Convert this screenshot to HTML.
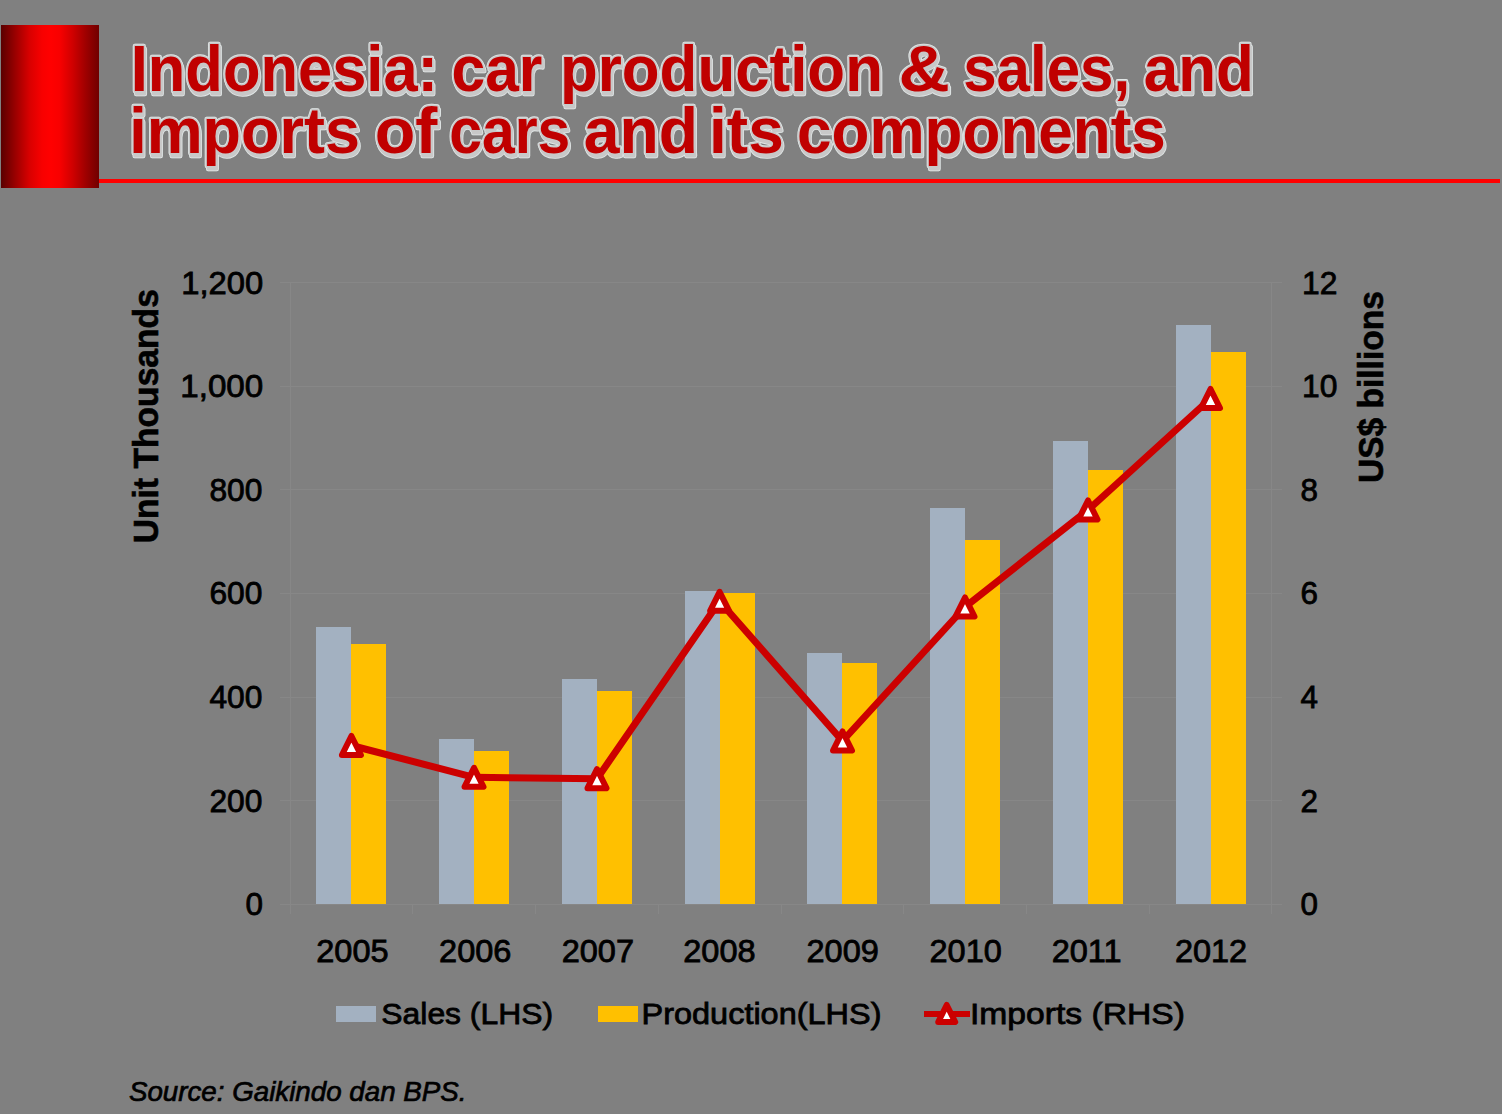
<!DOCTYPE html>
<html><head><meta charset="utf-8"><style>
html,body{margin:0;padding:0;background:#808080;width:1502px;height:1114px;overflow:hidden}
svg{display:block}
text{font-family:"Liberation Sans",sans-serif}
</style></head><body>
<svg width="1502" height="1114" viewBox="0 0 1502 1114">
<defs>
<linearGradient id="rg" x1="0" x2="1" y1="0" y2="0">
<stop offset="0" stop-color="#5a0000"/>
<stop offset="0.16" stop-color="#a00000"/>
<stop offset="0.29" stop-color="#d80000"/>
<stop offset="0.42" stop-color="#f80000"/>
<stop offset="0.51" stop-color="#ff0000"/>
<stop offset="0.6" stop-color="#f80000"/>
<stop offset="0.73" stop-color="#d00000"/>
<stop offset="0.86" stop-color="#a00000"/>
<stop offset="1" stop-color="#700000"/>
</linearGradient>
</defs>
<rect x="0" y="0" width="1502" height="1114" fill="#808080"/>
<rect x="1" y="25" width="98" height="163" fill="url(#rg)"/>
<rect x="99" y="179" width="1401" height="4" fill="#ff0000"/>

<g id="title" stroke-linejoin="round">
<g transform="translate(1.2,2.6)" fill="#e2e8e8" stroke="#e2e8e8" stroke-width="4.4"><text transform="translate(130.72,91.40) scale(0.9457,1)" font-size="65" font-weight="bold" font-style="normal" >Indonesia:</text>
<text transform="translate(451.51,91.40) scale(0.9309,1)" font-size="65" font-weight="bold" font-style="normal" >car</text>
<text transform="translate(559.99,91.40) scale(0.9517,1)" font-size="65" font-weight="bold" font-style="normal" >production</text>
<text transform="translate(898.41,91.40) scale(1.0952,1)" font-size="65" font-weight="bold" font-style="normal" >&amp;</text>
<text transform="translate(963.23,91.40) scale(0.9237,1)" font-size="65" font-weight="bold" font-style="normal" >sales,</text>
<text transform="translate(1143.79,91.40) scale(0.9532,1)" font-size="65" font-weight="bold" font-style="normal" >and</text>
<text transform="translate(129.16,153.20) scale(0.9684,1)" font-size="65" font-weight="bold" font-style="normal" >imports</text>
<text transform="translate(374.63,153.20) scale(1.0220,1)" font-size="65" font-weight="bold" font-style="normal" >of</text>
<text transform="translate(449.29,153.20) scale(0.9047,1)" font-size="65" font-weight="bold" font-style="normal" >cars</text>
<text transform="translate(583.82,153.20) scale(0.9890,1)" font-size="65" font-weight="bold" font-style="normal" >and</text>
<text transform="translate(709.08,153.20) scale(0.9838,1)" font-size="65" font-weight="bold" font-style="normal" >its</text>
<text transform="translate(797.04,153.20) scale(0.9546,1)" font-size="65" font-weight="bold" font-style="normal" >components</text></g>
<g fill="#e2e8e8" stroke="#e2e8e8" stroke-width="4.4"><text transform="translate(130.72,91.40) scale(0.9457,1)" font-size="65" font-weight="bold" font-style="normal" >Indonesia:</text>
<text transform="translate(451.51,91.40) scale(0.9309,1)" font-size="65" font-weight="bold" font-style="normal" >car</text>
<text transform="translate(559.99,91.40) scale(0.9517,1)" font-size="65" font-weight="bold" font-style="normal" >production</text>
<text transform="translate(898.41,91.40) scale(1.0952,1)" font-size="65" font-weight="bold" font-style="normal" >&amp;</text>
<text transform="translate(963.23,91.40) scale(0.9237,1)" font-size="65" font-weight="bold" font-style="normal" >sales,</text>
<text transform="translate(1143.79,91.40) scale(0.9532,1)" font-size="65" font-weight="bold" font-style="normal" >and</text>
<text transform="translate(129.16,153.20) scale(0.9684,1)" font-size="65" font-weight="bold" font-style="normal" >imports</text>
<text transform="translate(374.63,153.20) scale(1.0220,1)" font-size="65" font-weight="bold" font-style="normal" >of</text>
<text transform="translate(449.29,153.20) scale(0.9047,1)" font-size="65" font-weight="bold" font-style="normal" >cars</text>
<text transform="translate(583.82,153.20) scale(0.9890,1)" font-size="65" font-weight="bold" font-style="normal" >and</text>
<text transform="translate(709.08,153.20) scale(0.9838,1)" font-size="65" font-weight="bold" font-style="normal" >its</text>
<text transform="translate(797.04,153.20) scale(0.9546,1)" font-size="65" font-weight="bold" font-style="normal" >components</text></g>
<g transform="translate(1.2,2.6)" fill="#c8c8c8" stroke="#c8c8c8" stroke-width="2.8"><text transform="translate(130.72,91.40) scale(0.9457,1)" font-size="65" font-weight="bold" font-style="normal" >Indonesia:</text>
<text transform="translate(451.51,91.40) scale(0.9309,1)" font-size="65" font-weight="bold" font-style="normal" >car</text>
<text transform="translate(559.99,91.40) scale(0.9517,1)" font-size="65" font-weight="bold" font-style="normal" >production</text>
<text transform="translate(898.41,91.40) scale(1.0952,1)" font-size="65" font-weight="bold" font-style="normal" >&amp;</text>
<text transform="translate(963.23,91.40) scale(0.9237,1)" font-size="65" font-weight="bold" font-style="normal" >sales,</text>
<text transform="translate(1143.79,91.40) scale(0.9532,1)" font-size="65" font-weight="bold" font-style="normal" >and</text>
<text transform="translate(129.16,153.20) scale(0.9684,1)" font-size="65" font-weight="bold" font-style="normal" >imports</text>
<text transform="translate(374.63,153.20) scale(1.0220,1)" font-size="65" font-weight="bold" font-style="normal" >of</text>
<text transform="translate(449.29,153.20) scale(0.9047,1)" font-size="65" font-weight="bold" font-style="normal" >cars</text>
<text transform="translate(583.82,153.20) scale(0.9890,1)" font-size="65" font-weight="bold" font-style="normal" >and</text>
<text transform="translate(709.08,153.20) scale(0.9838,1)" font-size="65" font-weight="bold" font-style="normal" >its</text>
<text transform="translate(797.04,153.20) scale(0.9546,1)" font-size="65" font-weight="bold" font-style="normal" >components</text></g>
<g fill="#c8c8c8" stroke="#c8c8c8" stroke-width="2.8"><text transform="translate(130.72,91.40) scale(0.9457,1)" font-size="65" font-weight="bold" font-style="normal" >Indonesia:</text>
<text transform="translate(451.51,91.40) scale(0.9309,1)" font-size="65" font-weight="bold" font-style="normal" >car</text>
<text transform="translate(559.99,91.40) scale(0.9517,1)" font-size="65" font-weight="bold" font-style="normal" >production</text>
<text transform="translate(898.41,91.40) scale(1.0952,1)" font-size="65" font-weight="bold" font-style="normal" >&amp;</text>
<text transform="translate(963.23,91.40) scale(0.9237,1)" font-size="65" font-weight="bold" font-style="normal" >sales,</text>
<text transform="translate(1143.79,91.40) scale(0.9532,1)" font-size="65" font-weight="bold" font-style="normal" >and</text>
<text transform="translate(129.16,153.20) scale(0.9684,1)" font-size="65" font-weight="bold" font-style="normal" >imports</text>
<text transform="translate(374.63,153.20) scale(1.0220,1)" font-size="65" font-weight="bold" font-style="normal" >of</text>
<text transform="translate(449.29,153.20) scale(0.9047,1)" font-size="65" font-weight="bold" font-style="normal" >cars</text>
<text transform="translate(583.82,153.20) scale(0.9890,1)" font-size="65" font-weight="bold" font-style="normal" >and</text>
<text transform="translate(709.08,153.20) scale(0.9838,1)" font-size="65" font-weight="bold" font-style="normal" >its</text>
<text transform="translate(797.04,153.20) scale(0.9546,1)" font-size="65" font-weight="bold" font-style="normal" >components</text></g>
<g fill="#c00000"><text transform="translate(130.72,91.40) scale(0.9457,1)" font-size="65" font-weight="bold" font-style="normal" >Indonesia:</text>
<text transform="translate(451.51,91.40) scale(0.9309,1)" font-size="65" font-weight="bold" font-style="normal" >car</text>
<text transform="translate(559.99,91.40) scale(0.9517,1)" font-size="65" font-weight="bold" font-style="normal" >production</text>
<text transform="translate(898.41,91.40) scale(1.0952,1)" font-size="65" font-weight="bold" font-style="normal" >&amp;</text>
<text transform="translate(963.23,91.40) scale(0.9237,1)" font-size="65" font-weight="bold" font-style="normal" >sales,</text>
<text transform="translate(1143.79,91.40) scale(0.9532,1)" font-size="65" font-weight="bold" font-style="normal" >and</text>
<text transform="translate(129.16,153.20) scale(0.9684,1)" font-size="65" font-weight="bold" font-style="normal" >imports</text>
<text transform="translate(374.63,153.20) scale(1.0220,1)" font-size="65" font-weight="bold" font-style="normal" >of</text>
<text transform="translate(449.29,153.20) scale(0.9047,1)" font-size="65" font-weight="bold" font-style="normal" >cars</text>
<text transform="translate(583.82,153.20) scale(0.9890,1)" font-size="65" font-weight="bold" font-style="normal" >and</text>
<text transform="translate(709.08,153.20) scale(0.9838,1)" font-size="65" font-weight="bold" font-style="normal" >its</text>
<text transform="translate(797.04,153.20) scale(0.9546,1)" font-size="65" font-weight="bold" font-style="normal" >components</text></g>
</g>
<g id="grid" shape-rendering="crispEdges">
<rect x="280" y="800" width="1002" height="1" fill="#878787"/>
<rect x="280" y="697" width="1002" height="1" fill="#878787"/>
<rect x="280" y="593" width="1002" height="1" fill="#878787"/>
<rect x="280" y="489" width="1002" height="1" fill="#878787"/>
<rect x="280" y="386" width="1002" height="1" fill="#878787"/>
<rect x="280" y="282" width="1002" height="1" fill="#878787"/>
<rect x="290" y="282" width="1" height="632" fill="#878787"/>
<rect x="1271" y="282" width="1" height="632" fill="#878787"/>
</g>
<g id="bars" shape-rendering="crispEdges">
<rect x="316" y="627" width="35" height="277" fill="#a3b1c1"/>
<rect x="351" y="644" width="35" height="260" fill="#ffc000"/>
<rect x="439" y="739" width="35" height="165" fill="#a3b1c1"/>
<rect x="474" y="751" width="35" height="153" fill="#ffc000"/>
<rect x="562" y="679" width="35" height="225" fill="#a3b1c1"/>
<rect x="597" y="691" width="35" height="213" fill="#ffc000"/>
<rect x="685" y="591" width="35" height="313" fill="#a3b1c1"/>
<rect x="720" y="593" width="35" height="311" fill="#ffc000"/>
<rect x="807" y="653" width="35" height="251" fill="#a3b1c1"/>
<rect x="842" y="663" width="35" height="241" fill="#ffc000"/>
<rect x="930" y="508" width="35" height="396" fill="#a3b1c1"/>
<rect x="965" y="540" width="35" height="364" fill="#ffc000"/>
<rect x="1053" y="441" width="35" height="463" fill="#a3b1c1"/>
<rect x="1088" y="470" width="35" height="434" fill="#ffc000"/>
<rect x="1176" y="325" width="35" height="579" fill="#a3b1c1"/>
<rect x="1211" y="352" width="35" height="552" fill="#ffc000"/>
</g>
<g id="axis" shape-rendering="crispEdges">
<rect x="280" y="904" width="1002" height="1" fill="#878787"/>
<rect x="412" y="905" width="1" height="9" fill="#878787"/>
<rect x="535" y="905" width="1" height="9" fill="#878787"/>
<rect x="658" y="905" width="1" height="9" fill="#878787"/>
<rect x="781" y="905" width="1" height="9" fill="#878787"/>
<rect x="903" y="905" width="1" height="9" fill="#878787"/>
<rect x="1026" y="905" width="1" height="9" fill="#878787"/>
<rect x="1149" y="905" width="1" height="9" fill="#878787"/>
<rect x="290" y="905" width="1" height="9" fill="#878787"/>
<rect x="1271" y="905" width="1" height="9" fill="#878787"/>
</g>
<path d="M351.4,745.5 L474.0,777.3 L597.0,778.7 L719.6,601.3 L842.5,741.0 L965.0,607.0 L1088.0,510.0 L1210.5,398.5" fill="none" stroke="#cc0000" stroke-width="7" stroke-linejoin="round"/>
<path d="M351.4,736.0 L360.9,755.0 L341.9,755.0 Z" fill="#fff" stroke="#cc0000" stroke-width="6" stroke-linejoin="round"/>
<path d="M474.0,767.8 L483.5,786.8 L464.5,786.8 Z" fill="#fff" stroke="#cc0000" stroke-width="6" stroke-linejoin="round"/>
<path d="M597.0,769.2 L606.5,788.2 L587.5,788.2 Z" fill="#fff" stroke="#cc0000" stroke-width="6" stroke-linejoin="round"/>
<path d="M719.6,591.8 L729.1,610.8 L710.1,610.8 Z" fill="#fff" stroke="#cc0000" stroke-width="6" stroke-linejoin="round"/>
<path d="M842.5,731.5 L852.0,750.5 L833.0,750.5 Z" fill="#fff" stroke="#cc0000" stroke-width="6" stroke-linejoin="round"/>
<path d="M965.0,597.5 L974.5,616.5 L955.5,616.5 Z" fill="#fff" stroke="#cc0000" stroke-width="6" stroke-linejoin="round"/>
<path d="M1088.0,500.5 L1097.5,519.5 L1078.5,519.5 Z" fill="#fff" stroke="#cc0000" stroke-width="6" stroke-linejoin="round"/>
<path d="M1210.5,389.0 L1220.0,408.0 L1201.0,408.0 Z" fill="#fff" stroke="#cc0000" stroke-width="6" stroke-linejoin="round"/>
<text transform="translate(245.39,915.30) scale(1.0133,1)" font-size="31" font-weight="normal" font-style="normal" fill="#000"  stroke="#000" stroke-width="0.8">0</text>
<text transform="translate(209.38,811.68) scale(1.0240,1)" font-size="31" font-weight="normal" font-style="normal" fill="#000"  stroke="#000" stroke-width="0.8">200</text>
<text transform="translate(209.38,708.07) scale(1.0240,1)" font-size="31" font-weight="normal" font-style="normal" fill="#000"  stroke="#000" stroke-width="0.8">400</text>
<text transform="translate(209.38,604.45) scale(1.0240,1)" font-size="31" font-weight="normal" font-style="normal" fill="#000"  stroke="#000" stroke-width="0.8">600</text>
<text transform="translate(209.38,500.83) scale(1.0240,1)" font-size="31" font-weight="normal" font-style="normal" fill="#000"  stroke="#000" stroke-width="0.8">800</text>
<text transform="translate(180.26,397.22) scale(1.0703,1)" font-size="31" font-weight="normal" font-style="normal" fill="#000"  stroke="#000" stroke-width="0.8">1,000</text>
<text transform="translate(181.29,293.60) scale(1.0568,1)" font-size="31" font-weight="normal" font-style="normal" fill="#000"  stroke="#000" stroke-width="0.8">1,200</text>
<text transform="translate(1300.39,915.30) scale(1.0133,1)" font-size="31" font-weight="normal" font-style="normal" fill="#000"  stroke="#000" stroke-width="0.8">0</text>
<text transform="translate(1300.39,811.68) scale(1.0133,1)" font-size="31" font-weight="normal" font-style="normal" fill="#000"  stroke="#000" stroke-width="0.8">2</text>
<text transform="translate(1300.39,708.07) scale(1.0133,1)" font-size="31" font-weight="normal" font-style="normal" fill="#000"  stroke="#000" stroke-width="0.8">4</text>
<text transform="translate(1300.39,604.45) scale(1.0133,1)" font-size="31" font-weight="normal" font-style="normal" fill="#000"  stroke="#000" stroke-width="0.8">6</text>
<text transform="translate(1300.39,500.83) scale(1.0133,1)" font-size="31" font-weight="normal" font-style="normal" fill="#000"  stroke="#000" stroke-width="0.8">8</text>
<text transform="translate(1301.95,397.22) scale(1.0258,1)" font-size="31" font-weight="normal" font-style="normal" fill="#000"  stroke="#000" stroke-width="0.8">10</text>
<text transform="translate(1301.95,293.60) scale(1.0258,1)" font-size="31" font-weight="normal" font-style="normal" fill="#000"  stroke="#000" stroke-width="0.8">12</text>
<text transform="translate(316.30,962.00) scale(1.0485,1)" font-size="31" font-weight="normal" font-style="normal" fill="#000"  stroke="#000" stroke-width="0.8">2005</text>
<text transform="translate(439.10,962.00) scale(1.0485,1)" font-size="31" font-weight="normal" font-style="normal" fill="#000"  stroke="#000" stroke-width="0.8">2006</text>
<text transform="translate(561.70,962.00) scale(1.0485,1)" font-size="31" font-weight="normal" font-style="normal" fill="#000"  stroke="#000" stroke-width="0.8">2007</text>
<text transform="translate(683.30,962.00) scale(1.0485,1)" font-size="31" font-weight="normal" font-style="normal" fill="#000"  stroke="#000" stroke-width="0.8">2008</text>
<text transform="translate(806.50,962.00) scale(1.0485,1)" font-size="31" font-weight="normal" font-style="normal" fill="#000"  stroke="#000" stroke-width="0.8">2009</text>
<text transform="translate(929.50,962.00) scale(1.0485,1)" font-size="31" font-weight="normal" font-style="normal" fill="#000"  stroke="#000" stroke-width="0.8">2010</text>
<text transform="translate(1051.70,962.00) scale(1.0485,1)" font-size="31" font-weight="normal" font-style="normal" fill="#000"  stroke="#000" stroke-width="0.8">2011</text>
<text transform="translate(1174.90,962.00) scale(1.0485,1)" font-size="31" font-weight="normal" font-style="normal" fill="#000"  stroke="#000" stroke-width="0.8">2012</text>
<text transform="translate(158.00,543.37) rotate(-90) scale(0.9756,1)" font-size="34.5" font-weight="bold" fill="#000" stroke="#000" stroke-width="0.6">Unit Thousands</text>
<text transform="translate(1382.70,482.96) rotate(-90) scale(0.9715,1)" font-size="34.5" font-weight="bold" fill="#000" stroke="#000" stroke-width="0.6">US$ billions</text>
<rect x="336" y="1006" width="40" height="16" fill="#a3b1c1"/>
<text transform="translate(381.34,1023.50) scale(1.0619,1)" font-size="30" font-weight="normal" font-style="normal" fill="#000"  stroke="#000" stroke-width="0.8">Sales (LHS)</text>
<rect x="598" y="1006" width="40" height="16" fill="#ffc000"/>
<text transform="translate(641.56,1023.50) scale(1.0818,1)" font-size="30" font-weight="normal" font-style="normal" fill="#000"  stroke="#000" stroke-width="0.8">Production(LHS)</text>
<rect x="924" y="1011" width="46" height="6" fill="#cc0000"/>
<path d="M946.7,1005.0 L955.2,1022.0 L938.2,1022.0 Z" fill="#fff" stroke="#cc0000" stroke-width="6" stroke-linejoin="round"/>
<text transform="translate(969.94,1023.80) scale(1.1222,1)" font-size="30" font-weight="normal" font-style="normal" fill="#000"  stroke="#000" stroke-width="0.8">Imports (RHS)</text>
<text transform="translate(128.94,1101.00) scale(1.0082,1)" font-size="27.5" font-weight="normal" font-style="italic" fill="#000"  stroke="#000" stroke-width="0.7">Source: Gaikindo dan BPS.</text>
</svg></body></html>
